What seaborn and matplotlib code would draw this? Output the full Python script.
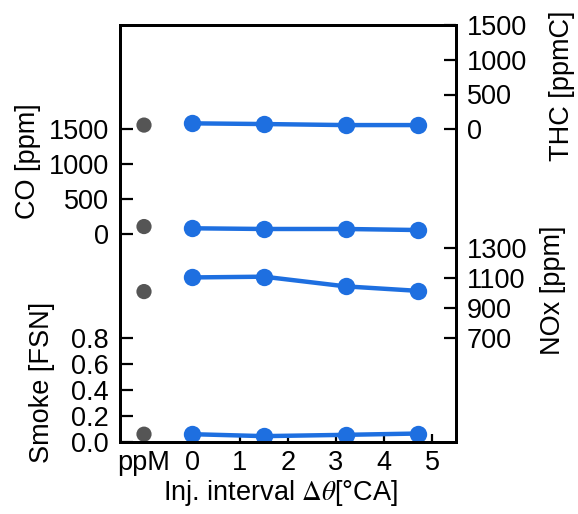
import matplotlib
matplotlib.use("Agg")
import matplotlib.pyplot as plt
import pandas as pd
import seaborn as sns

# Injection interval settings and the ppM reference case
interval = [0.0, 1.5, 3.2, 4.7]
ppm_x = [-1]

thc_ppm = [60]
thc = [85, 75, 60, 60]
co_ppm = [100]
co = [75, 65, 65, 50]
nox_ppm = [1010]
nox = [1105, 1110, 1045, 1015]
smoke_ppm = [0.06]
smoke = [0.06, 0.045, 0.055, 0.065]

x_ticks = [-1, 0, 1, 2, 3, 4, 5]
x_ticklabels = ["ppM", "0", "1", "2", "3", "4", "5"]
co_ticks = [0, 500, 1000, 1500]
thc_ticks = [0, 500, 1000, 1500]
nox_ticks = [700, 900, 1100, 1300]
smoke_ticks = [0.0, 0.2, 0.4, 0.6, 0.8]

sns.set_style("ticks", {"axes.edgecolor": "black", "text.color": "black",
                        "xtick.color": "black", "ytick.color": "black",
                        "axes.labelcolor": "black"})
plt.rcParams["font.family"] = ["Liberation Sans", "DejaVu Sans"]
plt.rcParams["mathtext.fontset"] = "stix"
plt.rcParams["axes.axisbelow"] = False
FS = 19.5
BLUE = "#1E6FE0"
GREY = "#555555"

W, H = 578, 514
fig = plt.figure(figsize=(W / 100, H / 100), dpi=100)
L, R, T, B = 120, 456, 25, 442
ax_co = fig.add_axes([L / W, 1 - B / H, (R - L) / W, (B - T) / H])
ax_sm = ax_co.twinx()
ax_thc = ax_co.twinx()
ax_nox = ax_co.twinx()

series = [
    (ax_thc, thc_ppm, thc, (-4500, 1500), thc_ticks, "right"),
    (ax_co, co_ppm, co, (-3000, 3000), co_ticks, "left"),
    (ax_nox, nox_ppm, nox, (0, 2800), nox_ticks, "right"),
    (ax_sm, smoke_ppm, smoke, (0, 3.2), smoke_ticks, "left"),
]

for ax, ref, vals, lim, ticks, side in series:
    df = pd.DataFrame({"x": interval, "y": vals})
    sns.lineplot(data=df, x="x", y="y", ax=ax, color=BLUE, lw=3.2,
                 marker="o", markersize=12.5, markeredgewidth=0,
                 zorder=3)
    sns.scatterplot(x=ppm_x, y=ref, ax=ax, color=GREY, s=120,
                    edgecolor="none", zorder=3)
    ax.set_ylim(*lim)
    ax.set_yticks(ticks)
    ax.yaxis.set_ticks_position(side)
    ax.set_ylabel("")
    ax.set_xlabel("")
    ax.tick_params(axis="y", direction="in", length=9, width=1.6,
                   color="black", labelcolor="black",
                   pad=8, labelsize=FS, which="major")
    for sp in ax.spines.values():
        sp.set_linewidth(2)
        sp.set_color("black")

ax_sm.yaxis.set_major_formatter(matplotlib.ticker.FormatStrFormatter("%.1f"))

ax_co.set_xlim(-1.5, 5.5)
ax_co.set_xticks(x_ticks)
ax_co.set_xticklabels(x_ticklabels)
ax_co.tick_params(axis="x", direction="in", length=6, width=1.6,
                  color="black", labelcolor="black",
                  pad=6, labelsize=FS, bottom=True)

def vlabel(x, y, text):
    fig.text(x / W, 1 - y / H, text, rotation=90, ha="center", va="center",
             fontsize=FS, color="black")

vlabel(28, 161, "CO [ppm]")
vlabel(42, 382, "Smoke [FSN]")
vlabel(562, 86, "THC [ppmC]")
vlabel(553, 290, "NOx [ppm]")
fig.text(280 / W, 1 - 493 / H, r"Inj. interval $\Delta\theta$[°CA]",
         ha="center", va="center", fontsize=FS, color="black")

fig.savefig("out.png", dpi=100)
